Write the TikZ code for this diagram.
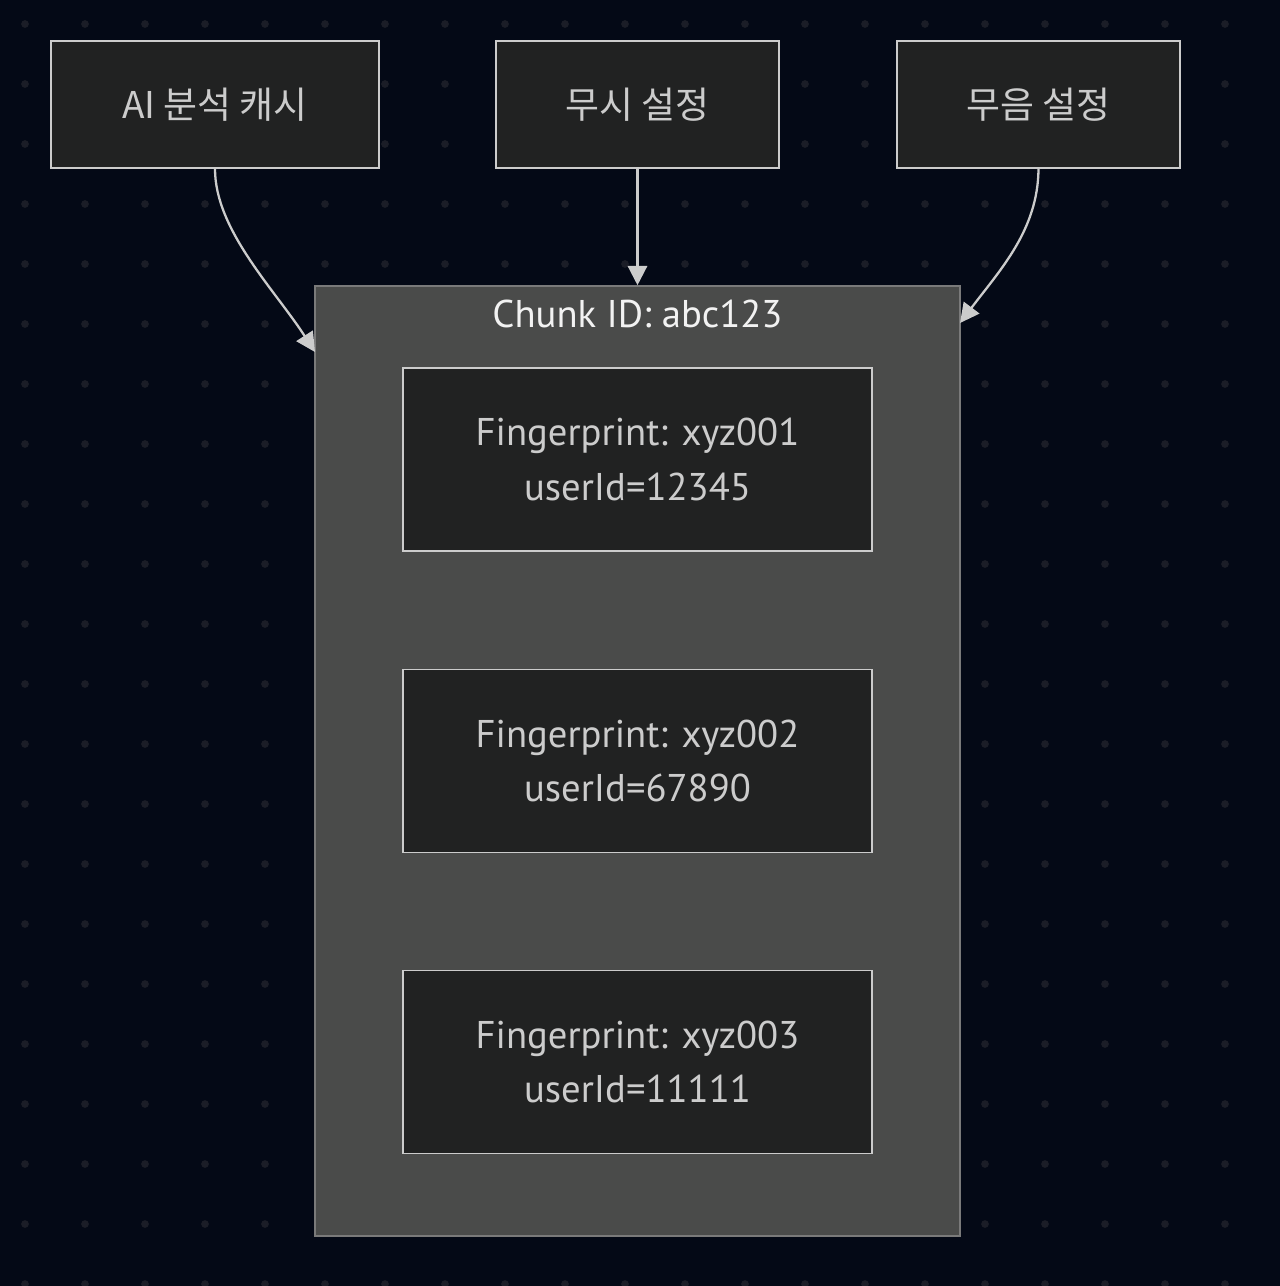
\documentclass[tikz,border=0pt]{standalone}
\usepackage{fontspec}
\setmainfont{PT Sans}
\newfontfamily\kofont{Noto Sans CJK KR}
\usetikzlibrary{arrows.meta}

\definecolor{bgnavy}{HTML}{040916}
\definecolor{griddot}{HTML}{1B1D27}
\definecolor{boxfill}{HTML}{212222}
\definecolor{boxline}{HTML}{CCCCCC}
\definecolor{chunkfill}{HTML}{4A4B4A}
\definecolor{chunkline}{HTML}{7A7A7A}
\definecolor{titletext}{HTML}{F2F2F2}

\tikzset{
  srcbox/.style = {draw=boxline, fill=boxfill, line width=1.1pt, text=boxline,
    minimum height=2.54cm, inner sep=0pt, font=\kofont\fontsize{21}{26}\selectfont},
  fpbox/.style = {draw=boxline, fill=boxfill, line width=1.1pt, text=boxline,
    minimum width=9.38cm, minimum height=3.66cm, align=center,
    font=\fontsize{22}{31}\selectfont},
  chunkbox/.style = {draw=chunkline, fill=chunkfill, line width=1pt,
    minimum width=12.9cm, minimum height=19cm, inner sep=0pt},
  link/.style = {draw=boxline, line width=1.3pt, -{Triangle[length=11pt,width=11pt]}}
}

\begin{document}
\begin{tikzpicture}[x=0.02cm, y=-0.02cm]
    % Background and dot grid
    \fill[bgnavy] (0,0) rectangle (1280,1286);
    \useasboundingbox (0,0) rectangle (1280,1286);
    \foreach \gx in {25,85,...,1225}
        \foreach \gy in {24,84,...,1284}
            \fill[griddot] (\gx,\gy) circle[radius=2.2pt];

    % Sources on top
    \node[srcbox, minimum width=6.56cm] (aicache) at (215,104.5) {AI 분석 캐시};
    \node[srcbox, minimum width=5.66cm] (ignore) at (637.5,104.5) {무시 설정};
    \node[srcbox, minimum width=5.66cm] (mute) at (1038.5,104.5) {무음 설정};

    % Chunk group with its fingerprints
    \node[chunkbox] (chunk) at (637.5,761) {};
    \node[text=titletext, font=\fontsize{22}{26}\selectfont] (chunktitle) at (637.5,314) {Chunk ID: abc123};
    \node[fpbox] (fp1) at (637.5,459.5) {Fingerprint: xyz001\\userId=12345};
    \node[fpbox] (fp2) at (637.5,761) {Fingerprint: xyz002\\userId=67890};
    \node[fpbox] (fp3) at (637.5,1062) {Fingerprint: xyz003\\userId=11111};

    % Arrows into the group
    \coordinate (aiend) at (315,352);
    \coordinate (muteend) at (960,323);
    \draw[link] (aicache.south) .. controls (215,230) and (275,290) .. (aiend);
    \draw[link] (ignore.south) -- (chunk.north);
    \draw[link] (mute.south) .. controls (1038,230) and (1000,270) .. (muteend);
\end{tikzpicture}
\end{document}
